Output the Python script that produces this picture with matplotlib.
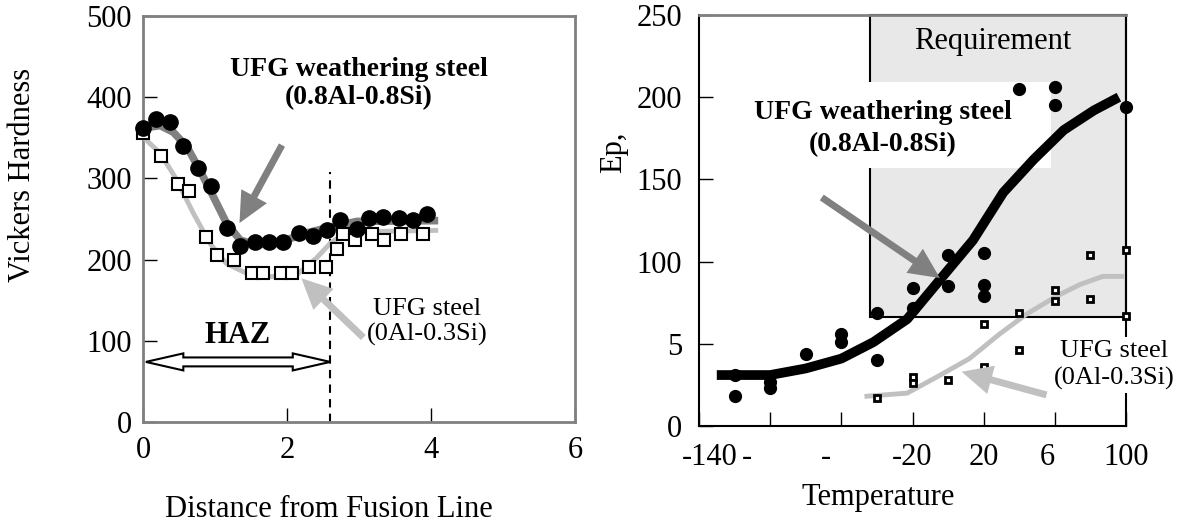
import matplotlib
matplotlib.use('Agg')
import matplotlib.pyplot as plt
from matplotlib.patches import Rectangle, Polygon
from matplotlib.transforms import ScaledTranslation

plt.rcParams['font.family'] = ['Liberation Serif', 'DejaVu Serif']
plt.rcParams['font.size'] = 22

# ---- left panel: hardness profile ----
weath_x = [0.0, 0.18, 0.37, 0.56, 0.76, 0.95, 1.16, 1.35, 1.56, 1.75, 1.95,
           2.17, 2.36, 2.55, 2.74, 2.97, 3.14, 3.34, 3.55, 3.75, 3.94]
weath_y = [362, 373, 369, 340, 313, 291, 239, 217, 222, 222, 222,
           233, 229, 236, 249, 238, 251, 252, 251, 249, 256]
ufg_x = [0.0, 0.25, 0.48, 0.64, 0.88, 1.03, 1.27, 1.52, 1.67, 1.91,
         2.07, 2.31, 2.54, 2.70, 2.78, 2.95, 3.18, 3.35, 3.58, 3.89]
ufg_y = [356, 328, 293, 285, 228, 206, 199, 184, 184, 184,
         184, 191, 191, 213, 232, 224, 231, 224, 231, 231]

# trend lines
weath_fit_x = [0.0, 0.24, 0.42, 0.61, 0.79, 0.98, 1.16, 1.35, 1.58, 1.9, 2.23, 2.6, 2.97, 4.1]
weath_fit_y = [362, 365, 357, 339, 310, 277, 245, 224, 218, 221, 232, 240, 247, 248]
ufg_fit_x = [0.0, 0.24, 0.47, 0.7, 0.93, 1.16, 1.44, 1.76, 2.13, 2.41, 2.6, 2.83, 4.1]
ufg_fit_y = [351, 331, 298, 257, 220, 195, 183, 179, 181, 202, 220, 234, 236]

haz_end = 2.6
left_xticks = [0, 2, 4, 6]
left_yticks = [0, 100, 200, 300, 400, 500]

# ---- right panel: Ep vs temperature ----
ep_w_x = [-120, -120, -100, -100, -80, -60, -60, -40, -40, -20,
          -20, 0, 0, 20, 20, 20, 40, 60, 60, 100]
ep_w_y = [31, 18, 27, 23, 44, 56, 51, 69, 40, 84,
          72, 104, 85, 105, 86, 79, 205, 206, 195, 194]
ep_u_x = [-40, -20, -20, 0, 20, 20, 40, 40, 60, 60, 80, 80, 100, 100]
ep_u_y = [17, 30, 26, 28, 62, 36, 69, 46, 83, 76, 104, 77, 107, 67]

ep_w_fit_x = [-130, -100, -80, -60, -42, -23, -3, 14, 31, 48, 65, 82, 96]
ep_w_fit_y = [31, 31, 35, 41, 51, 65, 91, 113, 142, 162, 180, 192, 200]
ep_u_fit_x = [-47, -23, -6, 12, 29, 44, 61, 74, 87, 99]
ep_u_fit_y = [18, 20, 30, 41, 56, 68, 79, 86, 91, 91]

right_xticks = [-140, -100, -60, -20, 20, 60, 100]
# labels as printed (partly lost); spaces keep the lost digits' width
right_xlabels = ['-140', '-      ', '-    ', '-20', '20', '6  ', '100']
right_yticks = [0, 50, 100, 150, 200, 250]
right_ylabels = ['0', '5', '100', '150', '200', '250']

req_x0, req_y0 = -44, 66

DARK = '#808080'
LIGHT = '#c0c0c0'
ARROW = 'simple,head_length=1.1,head_width=1.05,tail_width=0.25'

fig = plt.figure(figsize=(11.82, 5.25), dpi=100)

# ================= left =================
ax = fig.add_axes([143/1182, 1 - 422/525, 432/1182, 406/525])
ax.set_xlim(0, 6)
ax.set_ylim(0, 500)
for s in ax.spines.values():
    s.set_color(DARK)
    s.set_linewidth(2)
ax.set_xticks(left_xticks)
ax.set_yticks(left_yticks)
ax.tick_params(direction='in', length=10, width=1, color='black')
ax.tick_params(axis='x', pad=10)
ax.tick_params(axis='y', pad=8)

ax.plot(weath_fit_x, weath_fit_y, color=DARK, lw=5.5, solid_capstyle='butt', zorder=3)
ax.plot(ufg_fit_x, ufg_fit_y, color=LIGHT, lw=3.5, solid_capstyle='butt', zorder=3)
ax.plot(ufg_x, ufg_y, 's', ms=8.5, mfc='white', mec='black', mew=1.5, clip_on=False, zorder=4)
ax.plot(weath_x, weath_y, 'o', ms=11, color='black', clip_on=False, zorder=5)

ax.plot([haz_end, haz_end], [0, 308], color='black', lw=1.5, ls=(0, (4, 3)), zorder=2)

# HAZ open double arrow
hy, hw, sw, hl = 74, 10.5, 5.5, 0.52
x0, x1 = 0.04, haz_end
haz_poly = [(x0, hy), (x0 + hl, hy + hw), (x0 + hl, hy + sw), (x1 - hl, hy + sw),
            (x1 - hl, hy + hw), (x1, hy), (x1 - hl, hy - hw), (x1 - hl, hy - sw),
            (x0 + hl, hy - sw), (x0 + hl, hy - hw)]
ax.add_patch(Polygon(haz_poly, closed=True, facecolor='white', edgecolor='black', lw=1.5, zorder=6))
ax.text(1.32, 106, 'HAZ', fontsize=22, fontweight='bold', ha='center', va='center')

ax.text(3.0, 417, 'UFG weathering steel\n(0.8Al-0.8Si)', fontsize=20, fontweight='bold',
        ha='center', va='center', linespacing=1.15)
ax.text(3.95, 123, 'UFG steel\n(0Al-0.3Si)', fontsize=19, ha='center', va='center',
        linespacing=1.15)

ax.annotate('', xy=(1.34, 245), xytext=(1.93, 341),
            arrowprops=dict(arrowstyle=ARROW, mutation_scale=20, color=DARK, lw=0,
                            shrinkA=0, shrinkB=0), zorder=7)
ax.annotate('', xy=(2.2, 177), xytext=(3.06, 104),
            arrowprops=dict(arrowstyle=ARROW, mutation_scale=20, color=LIGHT, lw=0,
                            shrinkA=0, shrinkB=0), zorder=7)

ax.set_xlabel('Distance from Fusion Line', va='center')
ax.xaxis.set_label_coords(0.43, -0.215)
ax.set_ylabel('Vickers Hardness', va='center')
ax.yaxis.set_label_coords(-0.28, 0.608)

# ================= right =================
bx = fig.add_axes([699/1182, 1 - 426/525, 427/1182, 411/525])
bx.set_xlim(-140, 100)
bx.set_ylim(0, 250)
for k in ['left', 'bottom', 'right']:
    bx.spines[k].set_color('black')
    bx.spines[k].set_linewidth(1.5)
bx.spines['top'].set_color(DARK)
bx.spines['top'].set_linewidth(2)
bx.set_xticks(right_xticks)
bx.set_xticklabels(right_xlabels)
bx.set_yticks(right_yticks)
bx.set_yticklabels(right_ylabels)
bx.tick_params(direction='in', length=10, width=1, color='black')
bx.tick_params(axis='x', pad=12)
bx.tick_params(axis='y', pad=12)

# first label sits a little right of its tick in the original
first = bx.xaxis.get_major_ticks()[0].label1
first.set_transform(first.get_transform() + ScaledTranslation(8/72, 0, fig.dpi_scale_trans))

bx.add_patch(Rectangle((req_x0, req_y0), 100 - req_x0, 250 - req_y0, facecolor='#e8e8e8',
                       edgecolor='black', lw=1.5, clip_on=False, zorder=1))
bx.text(25, 234, 'Requirement', fontsize=22, ha='center', va='center', zorder=2)

# white panel behind the bold label
bx.add_patch(Rectangle((-125, 157), 183, 52, facecolor='white', edgecolor='none', zorder=1.5))
bx.text(-36.6, 181, 'UFG weathering steel\n(0.8Al-0.8Si)', fontsize=20, fontweight='bold',
        ha='center', va='center', linespacing=1.35, zorder=2)

bx.plot(ep_u_fit_x, ep_u_fit_y, color=LIGHT, lw=3.5, solid_capstyle='butt', zorder=3)
bx.plot(ep_w_fit_x, ep_w_fit_y, color='black', lw=7, solid_capstyle='butt', zorder=3)
bx.plot(ep_u_x, ep_u_y, 's', ms=5, mfc='white', mec='black', mew=2, clip_on=False, zorder=4)
bx.plot(ep_w_x, ep_w_y, 'o', ms=8.5, color='black', clip_on=False, zorder=5)

bx.annotate('', xy=(-4.6, 90), xytext=(-71, 139),
            arrowprops=dict(arrowstyle=ARROW, mutation_scale=20, color=DARK, lw=0,
                            shrinkA=0, shrinkB=0), zorder=6)
bx.annotate('', xy=(7.6, 33), xytext=(55.3, 18.9),
            arrowprops=dict(arrowstyle=ARROW, mutation_scale=20, color=LIGHT, lw=0,
                            shrinkA=0, shrinkB=0), zorder=6)

bx.text(93.3, 37, 'UFG steel\n(0Al-0.3Si)', fontsize=19, ha='center', va='center',
        linespacing=1.3, zorder=3.5, clip_on=False,
        bbox=dict(facecolor='white', edgecolor='none', pad=2))

bx.set_xlabel('Temperature', va='center')
bx.xaxis.set_label_coords(0.419, -0.173)
bx.set_ylabel('Ep,', va='center')
bx.yaxis.set_label_coords(-0.199, 0.667)

fig.savefig('out.png', dpi=100)
